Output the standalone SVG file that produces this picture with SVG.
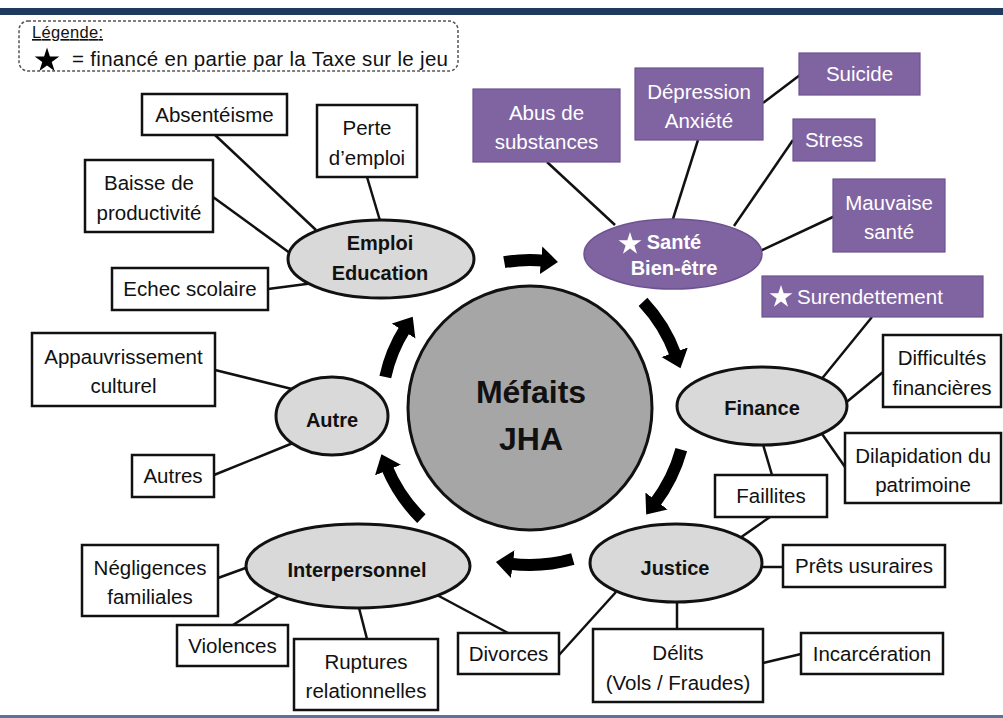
<svg xmlns="http://www.w3.org/2000/svg" xmlns:xlink="http://www.w3.org/1999/xlink" width="1003" height="718" viewBox="0 0 1003 718">
<style>
text{font-family:"Liberation Sans",Arial,sans-serif;font-size:20.5px;text-anchor:middle;fill:#111}
.b{font-weight:bold;font-size:20px}
.w{fill:#fff}
.box{fill:#fff;stroke:#111;stroke-width:2.5}
.pbox{fill:#8064a2;stroke:#6d5290;stroke-width:1.2}
.ell{fill:#d9d9d9;stroke:#111;stroke-width:3}
.pell{fill:#8064a2;stroke:#6d5290;stroke-width:1.5}
.ln{stroke:#111;stroke-width:2.5;fill:none}
.arr{stroke:#000;stroke-width:12;fill:none;marker-end:url(#ah)}
</style>
<defs>
<marker id="ah" markerUnits="userSpaceOnUse" markerWidth="20" markerHeight="30" refX="3" refY="14" orient="auto" viewBox="0 0 20 30">
<path d="M0,0 L17,14 L0,28 z" fill="#000"/>
</marker>
<polygon id="star" points="0,-12 2.7,-3.72 11.41,-3.71 4.37,1.42 7.05,9.71 0,4.6 -7.05,9.71 -4.37,1.42 -11.41,-3.71 -2.7,-3.72"/>
</defs>
<rect x="0" y="0" width="1003" height="718" fill="#fff"/>
<rect x="0" y="8" width="1003" height="7" fill="#1f3a5e"/>
<rect x="0" y="715" width="1003" height="3" fill="#5b7394"/>

<g id="legend">
<rect x="19" y="21" width="439" height="50" rx="9" fill="none" stroke="#555" stroke-width="1.5" stroke-dasharray="3 2"/>
<text x="32" y="38" style="text-anchor:start;font-size:16.5px;text-decoration:underline" textLength="71">Légende:</text>
<use xlink:href="#star" transform="translate(47,60.5) scale(1.08)" fill="#000"/>
<text x="72" y="66" style="text-anchor:start" textLength="376">= financé en partie  par la Taxe sur le jeu</text>
</g>

<g id="connectors">
<line class="ln" x1="215" y1="135" x2="316" y2="230"/>
<line class="ln" x1="367" y1="177" x2="381" y2="224"/>
<line class="ln" x1="213" y1="197" x2="294" y2="256"/>
<line class="ln" x1="268" y1="289" x2="314" y2="283"/>
<line class="ln" x1="215" y1="370" x2="296" y2="390"/>
<line class="ln" x1="214" y1="475" x2="293" y2="443"/>
<line class="ln" x1="218" y1="578" x2="251" y2="566"/>
<line class="ln" x1="233" y1="625" x2="280" y2="595"/>
<line class="ln" x1="367" y1="639" x2="358" y2="604"/>
<line class="ln" x1="437" y1="595" x2="508" y2="633"/>
<line class="ln" x1="616" y1="592" x2="559" y2="655"/>
<line class="ln" x1="677" y1="598" x2="677" y2="629"/>
<line class="ln" x1="763" y1="663" x2="801" y2="654"/>
<line class="ln" x1="758" y1="567" x2="783" y2="567"/>
<line class="ln" x1="737" y1="540" x2="770" y2="517"/>
<line class="ln" x1="772" y1="475" x2="762" y2="441"/>
<line class="ln" x1="820" y1="431" x2="845" y2="467"/>
<line class="ln" x1="843" y1="405" x2="883" y2="372"/>
<line class="ln" x1="872" y1="317" x2="820" y2="381"/>
<line class="ln" x1="758" y1="252" x2="835" y2="216"/>
<line class="ln" x1="734" y1="226" x2="793" y2="140"/>
<line class="ln" x1="763" y1="103" x2="800" y2="75"/>
<line class="ln" x1="698" y1="140" x2="672" y2="222"/>
<line class="ln" x1="547" y1="162" x2="615" y2="225"/>
<path class="arr" d="M504.3,262.2 A148,148 0 0 1 544,260.6"/>
<path class="arr" d="M643,301.8 A155,155 0 0 1 675.7,355"/>
<path class="arr" d="M681.3,449.7 A157,157 0 0 1 654.7,503.4"/>
<path class="arr" d="M572.8,559.1 A157,157 0 0 1 509.8,563.7"/>
<path class="arr" d="M421.4,518.6 A155,155 0 0 1 386.8,467.3"/>
<path class="arr" d="M385.3,377 A148,148 0 0 1 405.2,328.5"/>
</g>

<g id="center">
<circle cx="530" cy="408" r="122" fill="#a6a6a6" stroke="#111" stroke-width="3"/>
<text x="531" y="403" style="font-size:32px;font-weight:bold">Méfaits</text>
<text x="531" y="450" style="font-size:32px;font-weight:bold">JHA</text>
</g>

<g id="emploi"><ellipse class="ell" cx="381" cy="259" rx="93" ry="39"/><text class="b" x="380" y="250">Emploi</text><text class="b" x="380" y="280">Education</text></g>
<g id="sante"><ellipse class="pell" cx="673" cy="254" rx="89" ry="35"/><use xlink:href="#star" transform="translate(630,244)" fill="#fff"/><text class="b w" x="674" y="249">Santé</text><text class="b w" x="674" y="275">Bien-être</text></g>
<g id="finance"><ellipse class="ell" cx="762" cy="406" rx="85" ry="39"/><text class="b" x="762" y="415">Finance</text></g>
<g id="justice"><ellipse class="ell" cx="676" cy="563" rx="86" ry="39"/><text class="b" x="675" y="575">Justice</text></g>
<g id="interpersonnel"><ellipse class="ell" cx="358" cy="566" rx="112" ry="42"/><text class="b" x="357" y="577">Interpersonnel</text></g>
<g id="autre"><ellipse class="ell" cx="332" cy="416" rx="56" ry="39"/><text class="b" x="332" y="427">Autre</text></g>

<g id="absenteisme"><rect class="box" x="142" y="94" width="145" height="41"/><text x="214.5" y="122">Absentéisme</text></g>
<g id="perte"><rect class="box" x="317" y="105" width="100" height="72"/><text x="367" y="135">Perte</text><text x="367" y="165">d’emploi</text></g>
<g id="baisse"><rect class="box" x="85" y="160" width="128" height="72"/><text x="149" y="190">Baisse de</text><text x="149" y="220">productivité</text></g>
<g id="echec"><rect class="box" x="112" y="268" width="156" height="42"/><text x="190" y="296">Echec scolaire</text></g>
<g id="appauvrissement"><rect class="box" x="32" y="333" width="183" height="73"/><text x="123.5" y="364">Appauvrissement</text><text x="123.5" y="393">culturel</text></g>
<g id="autres"><rect class="box" x="132" y="455" width="82" height="42"/><text x="173" y="483">Autres</text></g>
<g id="negligences"><rect class="box" x="82" y="545" width="136" height="71"/><text x="150" y="575">Négligences</text><text x="150" y="604">familiales</text></g>
<g id="violences"><rect class="box" x="177" y="625" width="111" height="41"/><text x="232.5" y="653">Violences</text></g>
<g id="ruptures"><rect class="box" x="294" y="639" width="144" height="71"/><text x="366" y="669">Ruptures</text><text x="366" y="698">relationnelles</text></g>
<g id="divorces"><rect class="box" x="458" y="633" width="101" height="41"/><text x="508.5" y="661">Divorces</text></g>
<g id="delits"><rect class="box" x="593" y="629" width="170" height="73"/><text x="678" y="660">Délits</text><text x="678" y="690">(Vols / Fraudes)</text></g>
<g id="incarceration"><rect class="box" x="801" y="633" width="142" height="41"/><text x="872" y="661">Incarcération</text></g>
<g id="prets"><rect class="box" x="783" y="545" width="162" height="42"/><text x="864" y="573">Prêts usuraires</text></g>
<g id="faillites"><rect class="box" x="715" y="475" width="112" height="42"/><text x="771" y="503">Faillites</text></g>
<g id="dilapidation"><rect class="box" x="845" y="433" width="156" height="70"/><text x="923" y="463">Dilapidation du</text><text x="923" y="492">patrimoine</text></g>
<g id="difficultes"><rect class="box" x="883" y="335" width="118" height="72"/><text x="942" y="365">Difficultés</text><text x="942" y="395">financières</text></g>

<g id="surendettement"><rect class="pbox" x="762" y="276" width="221" height="41"/><use xlink:href="#star" transform="translate(781,297)" fill="#fff"/><text class="w" x="797" y="304" style="text-anchor:start">Surendettement</text></g>
<g id="mauvaise"><rect class="pbox" x="833" y="179" width="112" height="73"/><text class="w" x="889" y="210">Mauvaise</text><text class="w" x="889" y="239">santé</text></g>
<g id="stress"><rect class="pbox" x="793" y="119" width="82" height="42"/><text class="w" x="834" y="147">Stress</text></g>
<g id="suicide"><rect class="pbox" x="799" y="53" width="121" height="42"/><text class="w" x="859.5" y="81">Suicide</text></g>
<g id="depression"><rect class="pbox" x="635" y="68" width="128" height="72"/><text class="w" x="699" y="99">Dépression</text><text class="w" x="699" y="128">Anxiété</text></g>
<g id="abus"><rect class="pbox" x="473" y="89" width="147" height="73"/><text class="w" x="546.5" y="120">Abus de</text><text class="w" x="546.5" y="149">substances</text></g>
</svg>
